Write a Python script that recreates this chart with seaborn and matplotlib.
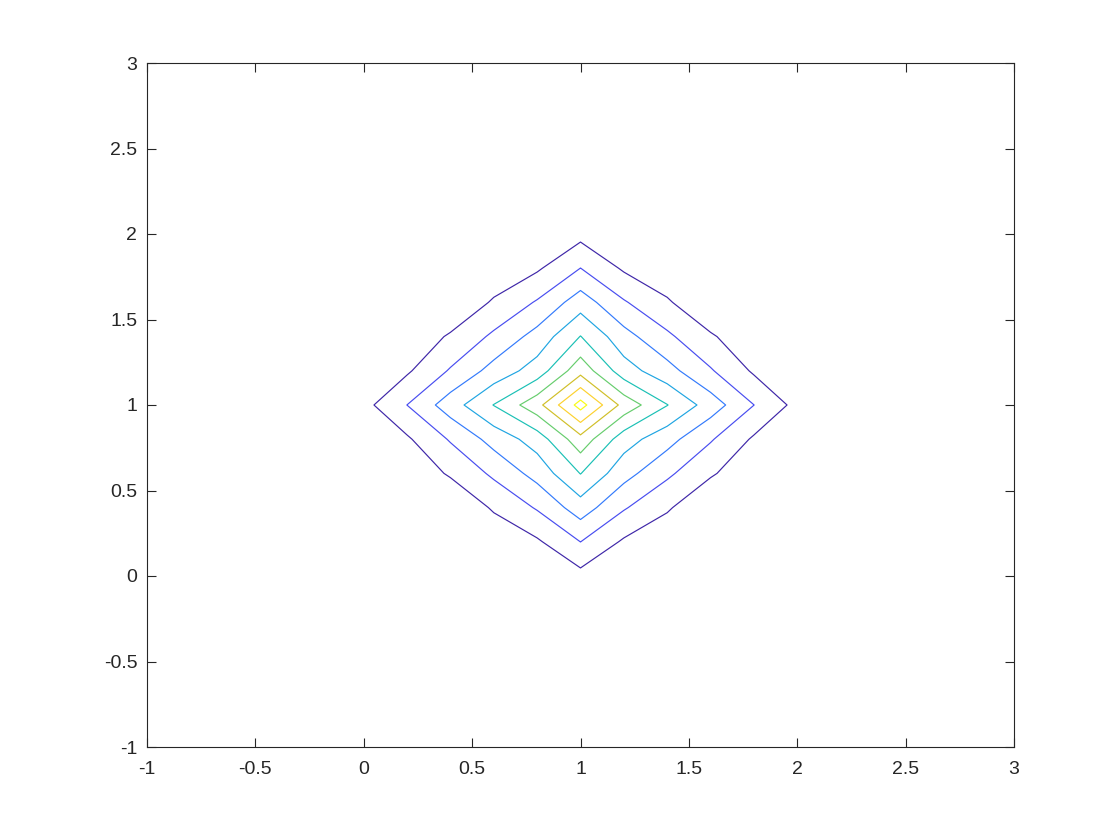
import numpy as np
import matplotlib
matplotlib.use("Agg")
import matplotlib.pyplot as plt
from matplotlib.colors import LinearSegmentedColormap, Normalize
import seaborn as sns

# ---- data -------------------------------------------------------------
# grid coordinates (MATLAB style meshgrid -1:0.2:3)
grid_x = np.round(np.linspace(-1.0, 3.0, 21), 2)
grid_y = np.round(np.linspace(-1.0, 3.0, 21), 2)
peak_x = 1.0
peak_y = 1.0

# values for one quadrant of the (symmetric) surface,
# rows = steps away from the peak in x, columns = steps away in y
quarter_values = [
    [0.940, 0.665, 0.503, 0.353, 0.2007, 0.069, 0.0],
    [0.665, 0.445, 0.337, 0.210, 0.086, 0.020, 0.0],
    [0.503, 0.337, 0.220, 0.110, 0.043, 0.0, 0.0],
    [0.353, 0.210, 0.110, 0.030, 0.0, 0.0, 0.0],
    [0.2007, 0.086, 0.043, 0.0, 0.0, 0.0, 0.0],
    [0.069, 0.020, 0.0, 0.0, 0.0, 0.0, 0.0],
    [0.0, 0.0, 0.0, 0.0, 0.0, 0.0, 0.0],
]

contour_levels = [0.1, 0.2, 0.3, 0.4, 0.5, 0.6, 0.7, 0.8, 0.9]

tick_values = [-1, -0.5, 0, 0.5, 1, 1.5, 2, 2.5, 3]
tick_labels = ["-1", "-0.5", "0", "0.5", "1", "1.5", "2", "2.5", "3"]

# parula colour anchors
parula_anchors = [
    (0.2422, 0.1504, 0.6603), (0.2706, 0.2147, 0.8364), (0.2813, 0.3006, 0.9414),
    (0.2699, 0.3892, 0.9906), (0.1963, 0.4847, 0.9892), (0.1687, 0.5703, 0.9359),
    (0.1248, 0.6459, 0.8883), (0.0297, 0.7082, 0.8163), (0.0964, 0.7500, 0.7120),
    (0.2161, 0.7843, 0.5923), (0.3909, 0.8029, 0.4354), (0.6174, 0.7876, 0.2612),
    (0.8203, 0.7498, 0.1535), (0.9728, 0.7298, 0.2394), (0.9892, 0.8136, 0.1885),
    (0.9597, 0.9135, 0.1423), (0.9769, 0.9839, 0.0805),
]

# ---- build the surface from the quadrant table -----------------------
qv = np.array(quarter_values)
cx = int(np.argmin(np.abs(grid_x - peak_x)))
cy = int(np.argmin(np.abs(grid_y - peak_y)))
Z = np.zeros((len(grid_y), len(grid_x)))
for r in range(len(grid_y)):
    for c in range(len(grid_x)):
        i = abs(c - cx)
        j = abs(r - cy)
        if i < qv.shape[0] and j < qv.shape[1]:
            Z[r, c] = qv[i, j]
X, Y = np.meshgrid(grid_x, grid_y)

# ---- style ------------------------------------------------------------
sns.set_style("white")
plt.rcParams["font.family"] = ["Liberation Sans", "DejaVu Sans"]
plt.rcParams["axes.unicode_minus"] = False

parula = LinearSegmentedColormap.from_list("parula", parula_anchors)

fig = plt.figure(figsize=(11.2, 8.4), dpi=100)
ax = fig.add_axes([147 / 1120, 1 - 747 / 840, (1014 - 147) / 1120, (747 - 63) / 840])

ax.contour(X, Y, Z, levels=contour_levels, cmap=parula,
           norm=Normalize(vmin=min(contour_levels), vmax=max(contour_levels)),
           linewidths=0.85)

ax.set_xlim(-1, 3)
ax.set_ylim(-1, 3)
ax.set_xticks(tick_values)
ax.set_yticks(tick_values)
ax.set_xticklabels(tick_labels)
ax.set_yticklabels(tick_labels)

edge = (0.15, 0.15, 0.15)
for s in ax.spines.values():
    s.set_visible(True)
    s.set_color(edge)
    s.set_linewidth(0.8)
ax.tick_params(axis="both", which="both", direction="in", length=6.5, width=0.8,
               color=edge, labelcolor=edge, labelsize=14,
               top=True, right=True, bottom=True, left=True)
ax.tick_params(axis="x", pad=10)
ax.tick_params(axis="y", pad=7)
ax.grid(False)

fig.savefig("out.png", dpi=100, facecolor="white")
